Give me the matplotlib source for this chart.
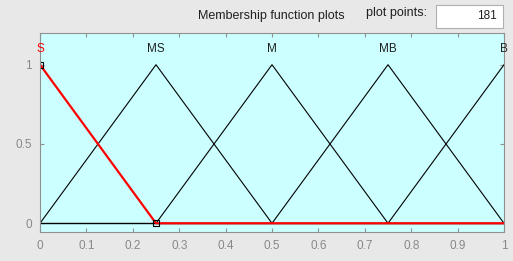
import matplotlib.pyplot as plt
from matplotlib.patches import Rectangle

plt.rcParams['font.family'] = ['Liberation Sans', 'DejaVu Sans']

# membership functions (triangles), x breakpoints and y values
mf_names = ['S', 'MS', 'M', 'MB', 'B']
mf_x = [[0, 0, 0.25], [0, 0.25, 0.5], [0.25, 0.5, 0.75], [0.5, 0.75, 1.0], [0.75, 1.0, 1.0]]
mf_y = [[1, 1, 0], [0, 1, 0], [0, 1, 0], [0, 1, 0], [0, 1, 1]]
selected = 0
xticks = [0, 0.1, 0.2, 0.3, 0.4, 0.5, 0.6, 0.7, 0.8, 0.9, 1]
yticks = [0, 0.5, 1]
plot_points = 181

fig = plt.figure(figsize=(5.13, 2.61), dpi=100)
fig.patch.set_facecolor('#e8e8e8')
ax = fig.add_axes([40/513, 29/261, 464/513, 199/261])
ax.set_facecolor('#ccffff')

# black base line for all mfs
ax.plot([0, 1], [0, 0], color='black', lw=1)
for i in range(len(mf_names)):
    if i == selected:
        continue
    ax.plot(mf_x[i], mf_y[i], color='black', lw=0.8)
# selected mf drawn in red, extended to the full range
sx = mf_x[selected] + [1.0]
sy = mf_y[selected] + [0]
ax.plot(sx[1:], sy[1:], color='#ff0000', lw=1.6)
ax.plot([0.25], [0], marker='s', ms=5, mfc='none', mec='black', mew=0.8)
ax.plot([0], [1], marker='s', ms=4, mfc='none', mec='black', mew=0.8)

for i, name in enumerate(mf_names):
    peak = mf_x[i][1]
    ax.text(peak, 1.1, name, ha='center', va='center', fontsize=8.5,
            color='red' if i == selected else '#202020')

ax.set_xlim(0, 1)
ax.set_ylim(-0.055, 1.2)
ax.set_xticks(xticks)
ax.set_xticklabels(['0', '0.1', '0.2', '0.3', '0.4', '0.5', '0.6', '0.7', '0.8', '0.9', '1'])
ax.set_yticks(yticks)
ax.set_yticklabels(['0', '0.5', '1'])
ax.tick_params(direction='in', length=3, top=True, right=True, labelsize=8.5,
               labelcolor='#888888', color='#909090', pad=6)
for s in ax.spines.values():
    s.set_color('#909090')

fig.text(271/513, 1 - 16/261, 'Membership function plots', ha='center', va='center',
         fontsize=9, color='#202020')
fig.text(396/513, 1 - 13/261, 'plot points:', ha='center', va='center',
         fontsize=9, color='#202020')
fig.patches.append(Rectangle((436/513, 1 - 28/261), 67/513, 23/261, transform=fig.transFigure,
                             facecolor='white', edgecolor='#b0b0b0', lw=0.8))
fig.text(497/513, 1 - 16/261, str(plot_points), ha='right', va='center',
         fontsize=8.5, color='#202020')

fig.savefig('out.png', dpi=100, facecolor=fig.get_facecolor())
